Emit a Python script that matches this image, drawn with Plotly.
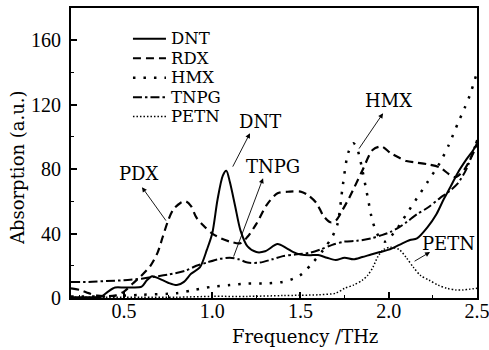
import plotly.graph_objects as go

# ---------------- data ----------------
series_names = ["DNT", "RDX", "HMX", "TNPG", "PETN"]

dnt_f = [0.2, 0.3, 0.37, 0.41, 0.45, 0.5, 0.55, 0.6, 0.63, 0.66, 0.7, 0.75, 0.8, 0.84,
         0.88, 0.93, 0.97, 1.0, 1.03, 1.06, 1.08, 1.1, 1.13, 1.16, 1.2, 1.25, 1.3, 1.37,
         1.42, 1.46, 1.5, 1.55, 1.6, 1.65, 1.7, 1.75, 1.8, 1.85, 1.9, 1.95, 2.0, 2.06,
         2.12, 2.16, 2.22, 2.27, 2.31, 2.35, 2.39, 2.44, 2.48, 2.5]
dnt_v = [0.5, 0.5, 0.8, 4, 6.5, 6.5, 6.5, 7, 11, 13.5, 12, 9.5, 8, 10,
         15, 19, 30, 40, 61, 76, 79, 72, 57, 42, 32, 28.5, 29, 33.5,
         31, 28.5, 27, 26.5, 26.7, 25, 23.6, 25, 24, 25.4, 27, 28.5, 30, 33,
         36, 37, 44, 52, 61, 69, 77.5, 86, 92, 96]

rdx_f = [0.2, 0.25, 0.3, 0.35, 0.45, 0.5, 0.55, 0.6, 0.65, 0.69, 0.72, 0.75, 0.78, 0.82,
         0.85, 0.88, 0.91, 0.95, 1.0, 1.05, 1.1, 1.16, 1.2, 1.25, 1.31, 1.37, 1.44, 1.5,
         1.54, 1.59, 1.63, 1.67, 1.7, 1.74, 1.78, 1.85, 1.91, 1.96, 2.01, 2.06, 2.1, 2.16,
         2.22, 2.29, 2.34, 2.38, 2.43, 2.47, 2.5]
rdx_v = [6, 5, 3, 1.5, 1.5, 4, 9, 14, 20, 28, 38, 48, 55, 59,
         60, 57, 50, 45, 40, 37, 35, 34, 38, 46, 58, 65, 66, 66,
         64, 59, 51, 47, 48, 55, 63, 79, 92, 94, 90, 87, 85, 84,
         83, 81, 77, 75, 80, 88, 95]

hmx_f = [0.2, 0.4, 0.6, 0.8, 0.9, 1.0, 1.1, 1.2, 1.3, 1.4, 1.46, 1.51, 1.57, 1.63, 1.68,
         1.71, 1.74, 1.77, 1.8, 1.82, 1.84, 1.88, 1.91, 1.95, 1.98, 2.04, 2.1, 2.16, 2.22,
         2.29, 2.34, 2.39, 2.43, 2.46, 2.5]
hmx_v = [1, 1, 2, 3, 5, 7, 8, 9, 9, 10, 12, 15, 22, 30, 38,
         46, 70, 90, 96, 93, 85, 63, 47, 37, 35, 42, 52, 62, 72,
         84, 95, 108, 118, 126, 140]

tnpg_f = [0.2, 0.3, 0.4, 0.5, 0.6, 0.66, 0.75, 0.85, 0.91, 0.97, 1.03, 1.1, 1.15, 1.2,
          1.27, 1.34, 1.4, 1.47, 1.55, 1.61, 1.68, 1.75, 1.82, 1.9, 1.96, 2.01, 2.06, 2.1,
          2.16, 2.22, 2.29, 2.34, 2.39, 2.44, 2.5]
tnpg_v = [10, 10, 10.5, 11, 12, 13, 14.5, 17, 20, 22, 24, 25, 24, 22,
          22, 24, 26, 27, 28, 30, 33, 35, 35.5, 37, 39, 41, 44, 47,
          52, 56, 62, 66, 71, 80, 98]

petn_f = [0.2, 0.4, 0.6, 0.8, 1.0, 1.2, 1.4, 1.6, 1.7, 1.75, 1.8, 1.85, 1.88, 1.91, 1.94,
          1.97, 2.01, 2.06, 2.1, 2.14, 2.18, 2.23, 2.28, 2.33, 2.38, 2.42, 2.46, 2.5]
petn_v = [0.5, 0.5, 0.5, 0.5, 1, 1, 1.5, 2, 3, 6, 8, 11, 14, 19, 26,
          30, 31.5, 30, 25, 19, 14, 11, 8, 6, 5, 5, 5.5, 6]

x_ticks = [0.5, 1.0, 1.5, 2.0, 2.5]
x_tick_labels = ["0.5", "1.0", "1.5", "2.0", "2.5"]
y_ticks = [0, 40, 80, 120, 160]
y_tick_labels = ["0", "40", "80", "120", "160"]

# callouts: label, text position, arrow head, arrow tail (data units)
callouts = [
    ("PDX", (0.585, 77.5), (0.602, 68.8), (0.744, 47.1)),
    ("DNT", (1.271, 109.8), (1.214, 102.3), (1.112, 80.6)),
    ("TNPG", (1.344, 81.9), (1.288, 74.4), (1.118, 24.8)),
    ("HMX", (1.996, 122.8), (1.968, 114.7), (1.826, 91.8)),
    ("PETN", (2.336, 34.1), (2.234, 28.5), (2.138, 22.3)),
]

# ---------------- styling ----------------
TEXT_FONT = "DejaVu Serif"
TICK_FONT = "Liberation Serif"
styles = {
    "DNT": dict(dash="solid", width=2.0),
    "RDX": dict(dash="8px,5px", width=2.2),
    "HMX": dict(dash="2.5px,8px", width=2.5),
    "TNPG": dict(dash="9px,3px,2.5px,3px", width=2.0),
    "PETN": dict(dash="1.5px,2px", width=1.5),
}

data = {
    "DNT": (dnt_f, dnt_v),
    "RDX": (rdx_f, rdx_v),
    "HMX": (hmx_f, hmx_v),
    "TNPG": (tnpg_f, tnpg_v),
    "PETN": (petn_f, petn_v),
}

fig = go.Figure()
for name in series_names:
    fx, fy = data[name]
    st = styles[name]
    fig.add_trace(go.Scatter(
        x=fx, y=fy, mode="lines", name=name, showlegend=False,
        line=dict(color="black", width=st["width"], dash=st["dash"],
                  shape="spline", smoothing=0.8),
        cliponaxis=True,
    ))

annotations = []
shapes = []

# manual legend (compact row spacing as in the reference)
leg_x0, leg_x1, leg_tx = 0.551, 0.738, 0.755
leg_rows = [160.9, 148.8, 136.7, 124.6, 112.6]
for name, yv in zip(series_names, leg_rows):
    st = styles[name]
    shapes.append(dict(type="line", xref="x", yref="y", x0=leg_x0, x1=leg_x1,
                       y0=yv, y1=yv,
                       line=dict(color="black", width=st["width"], dash=st["dash"])))
    annotations.append(dict(x=leg_tx, y=yv, xref="x", yref="y", text=name,
                            showarrow=False, xanchor="left", yanchor="middle",
                            font=dict(family=TEXT_FONT, size=16.5, color="black")))

for label, (tx, ty), (hx, hy), (sx, sy) in callouts:
    annotations.append(dict(x=hx, y=hy, ax=sx, ay=sy, xref="x", yref="y",
                            axref="x", ayref="y", text="", showarrow=True,
                            arrowhead=2, arrowsize=1.1, arrowwidth=0.9,
                            arrowcolor="black", standoff=0, startstandoff=0))
    annotations.append(dict(x=tx, y=ty, xref="x", yref="y", text=label,
                            showarrow=False, xanchor="center", yanchor="middle",
                            font=dict(family=TEXT_FONT, size=18, color="black")))

# axis titles
annotations.append(dict(x=0.576, y=-0.09, xref="paper", yref="paper",
                        text="Frequency /THz", showarrow=False,
                        xanchor="center", yanchor="top",
                        font=dict(family=TEXT_FONT, size=18, color="black")))
annotations.append(dict(x=-0.133, y=0.448, xref="paper", yref="paper",
                        text="Absorption (a.u.)", showarrow=False, textangle=-90,
                        xanchor="center", yanchor="middle",
                        font=dict(family=TEXT_FONT, size=18, color="black")))

axis_common = dict(
    showline=True, linewidth=2, linecolor="black", mirror=True,
    showgrid=False, zeroline=False,
    ticks="inside", ticklen=6, tickwidth=1.5, tickcolor="black",
    tickfont=dict(family=TICK_FONT, size=20, color="black"),
    ticklabeloverflow="allow",
    automargin=False,
)

fig.update_layout(
    width=489, height=350,
    margin=dict(l=71, r=12, t=8, b=52, autoexpand=False),
    paper_bgcolor="white", plot_bgcolor="white",
    xaxis=dict(range=[0.2, 2.5], tickvals=x_ticks, ticktext=x_tick_labels,
               minor=dict(dtick=0.25, tick0=0, ticks="inside", ticklen=3,
                          tickwidth=1.2, tickcolor="black"),
               ticklabelstandoff=-6,
               **axis_common),
    yaxis=dict(range=[0, 180], tickvals=y_ticks, ticktext=y_tick_labels,
               minor=dict(dtick=20, tick0=0, ticks="inside", ticklen=3,
                          tickwidth=1.2, tickcolor="black"),
               ticklabelstandoff=4,
               **axis_common),
    shapes=shapes,
    annotations=annotations,
    showlegend=False,
)

fig.write_html("out.html")
